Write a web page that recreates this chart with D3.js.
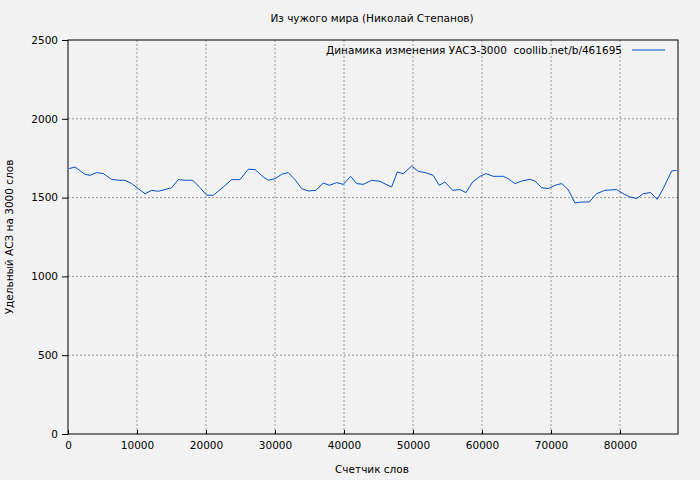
<!DOCTYPE html>
<html><head><meta charset="utf-8">
<script src="https://cdn.jsdelivr.net/npm/d3@7"></script>
<style>body{margin:0;background:#f2f2f2}text{font-family:"DejaVu Sans",sans-serif;font-size:11px;fill:#000}</style>
</head><body>
<script>
const words = [190,1010,2460,3190,4160,5110,6330,7290,8260,9230,10190,11160,12130,13080,14060,15030,15980,16950,18070,19130,20100,21050,22500,23720,24920,26130,27100,28300,29020,30000,30970,31920,32890,33860,34820,35940,36990,37860,38930,39890,40960,41830,42790,44010,45210,46900,47720,48590,49800,50760,51980,52930,53800,54630,55740,56800,57670,58640,59700,60570,61630,63080,63800,64770,65740,66940,67670,68640,69600,70570,71540,72490,73460,74440,75540,76610,77810,79510,80460,81430,82400,83360,84430,85390,86260,87480,88200];
const uasz = [1684,1694,1648,1641,1659,1652,1616,1610,1610,1589,1557,1525,1546,1540,1551,1563,1614,1610,1610,1563,1515,1515,1567,1614,1614,1680,1678,1631,1610,1620,1648,1659,1614,1557,1542,1546,1593,1578,1595,1584,1635,1589,1584,1610,1603,1567,1662,1652,1700,1667,1656,1641,1578,1599,1546,1551,1532,1599,1635,1652,1635,1635,1620,1589,1605,1616,1605,1563,1557,1578,1589,1551,1466,1472,1472,1525,1546,1551,1525,1504,1494,1525,1532,1489,1557,1669,1673];
const xTicks = [0,10000,20000,30000,40000,50000,60000,70000,80000];
const yTicks = [0,500,1000,1500,2000,2500];

const W = 700, H = 480, L = 68, R = 678, T = 40, B = 434;
const svg = d3.select("body").append("svg").attr("width", W).attr("height", H);
svg.append("rect").attr("width", W).attr("height", H).attr("fill", "#f2f2f2");

const x = d3.scaleLinear().domain([0, 88400]).range([L, R]);
const y = d3.scaleLinear().domain([0, 2500]).range([B, T]);

// grid
svg.append("g").selectAll("line").data(xTicks.slice(1)).join("line")
    .attr("x1", d => x(d)).attr("x2", d => x(d)).attr("y1", T).attr("y2", B)
    .attr("stroke", "#999").attr("stroke-dasharray", "2,2");
svg.append("g").selectAll("line").data(yTicks.slice(1, -1)).join("line")
    .attr("x1", L).attr("x2", R).attr("y1", d => y(d)).attr("y2", d => y(d))
    .attr("stroke", "#999").attr("stroke-dasharray", "2,2");

svg.append("g").attr("transform", `translate(0,${B})`)
    .call(d3.axisBottom(x).tickValues(xTicks).tickFormat(d3.format("d")).tickSize(-4).tickPadding(8))
    .call(g => g.select(".domain").remove())
    .call(g => g.selectAll("text").style("font-size", "10.5px"));
svg.append("g").attr("transform", `translate(${L},0)`)
    .call(d3.axisLeft(y).tickValues(yTicks).tickFormat(d3.format("d")).tickSize(6).tickPadding(4))
    .call(g => g.select(".domain").remove())
    .call(g => g.selectAll("text").style("font-size", "10.5px"));

svg.append("rect").attr("x", L).attr("y", T).attr("width", R - L).attr("height", B - T)
    .attr("fill", "none").attr("stroke", "#000");

const line = d3.line().x((d, i) => x(words[i])).y(d => y(d));
svg.append("path").datum(uasz).attr("d", line).attr("fill", "none").attr("stroke", "#0050c8").attr("stroke-width", 1);

svg.append("text").attr("x", 372).attr("y", 22).attr("text-anchor", "middle").style("font-size", "10.5px").text("Из чужого мира (Николай Степанов)");
svg.append("text").attr("x", 372).attr("y", 473).attr("text-anchor", "middle").style("font-size", "10.5px").text("Счетчик слов");
svg.append("text").attr("transform", "translate(13,237) rotate(-90)").attr("text-anchor", "middle").style("font-size", "10.5px").text("Удельный АСЗ на 3000 слов");
svg.append("text").attr("x", 622).attr("y", 54).attr("text-anchor", "end").attr("xml:space", "preserve").style("white-space", "pre").style("font-size", "10.5px").text("Динамика изменения УАСЗ-3000  coollib.net/b/461695");
svg.append("line").attr("x1", 632).attr("x2", 665).attr("y1", 50).attr("y2", 50).attr("stroke", "#0050c8");
</script>
</body></html>
